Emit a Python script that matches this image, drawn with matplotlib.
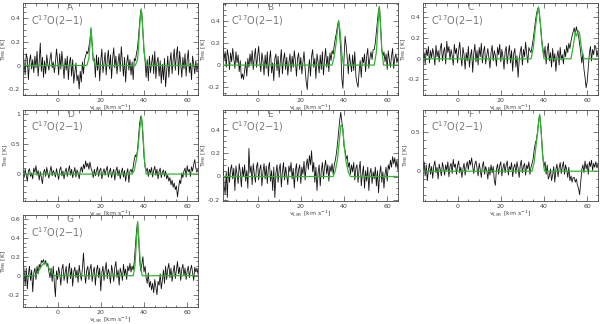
"""
C17O(2-1) spectra towards positions A-G, with the Gaussian fits in green
"""
import numpy as np
import matplotlib
matplotlib.use('Agg')
import matplotlib.pyplot as plt
from matplotlib.ticker import MultipleLocator

v_start = -16.0   # first channel (km/s)
dv = 0.5          # channel width (km/s)

# observed spectra (T_MB in K), one value per channel
spec_A = [0.14, 0.02, -0.08, 0.10, 0.06, -0.12, 0.04, 0.09, -0.03, 0.05,
          -0.06, 0.08, -0.02, 0.12, -0.09, 0.03, 0.19, -0.05, 0.07, -0.10,
          0.04, -0.07, 0.09, 0.01, -0.04, 0.06, 0.11, -0.02, 0.03, -0.06,
          0.02, 0.14, 0.05, -0.08, 0.10, -0.03, 0.12, 0.00, -0.11, 0.06,
          -0.04, 0.08, -0.12, 0.03, 0.07, -0.09, 0.05, -0.15, -0.06, 0.02,
          -0.13, -0.08, -0.20, -0.05, -0.14, 0.03, -0.07, 0.05, 0.08, 0.12,
          0.10, 0.16, 0.22, 0.31, 0.18, 0.04, 0.06, -0.10, 0.09, -0.04,
          0.07, -0.13, 0.04, 0.14, -0.06, 0.02, 0.11, -0.08, 0.05, 0.13,
          -0.03, 0.09, -0.11, 0.06, 0.15, -0.02, 0.08, -0.07, 0.03, 0.10,
          -0.05, 0.16, 0.04, -0.09, 0.07, -0.14, 0.02, 0.09, -0.04, 0.05,
          -0.08, 0.03, -0.12, 0.06, 0.04, 0.10, 0.15, 0.25, 0.37, 0.47,
          0.45, 0.28, 0.12, 0.04, -0.10, 0.05, -0.13, 0.08, -0.06, 0.02,
          0.09, -0.07, 0.12, -0.11, 0.03, 0.07, -0.09, 0.04, -0.15, 0.01,
          -0.12, 0.06, -0.18, -0.05, 0.08, -0.10, 0.03, 0.11, -0.07, 0.05,
          0.14, -0.04, 0.09, 0.16, -0.08, 0.12, 0.02, -0.10, 0.07, -0.03,
          0.10, -0.09, 0.05, 0.13, -0.06, 0.02, -0.12, 0.08, 0.01, -0.07,
          0.04, -0.05, 0.02]
spec_B = [0.17, 0.05, 0.12, -0.02, 0.14, 0.08, -0.04, 0.11, 0.03, 0.15,
          0.06, -0.03, 0.12, 0.02, 0.09, -0.06, 0.04, -0.12, -0.08, -0.13,
          -0.05, 0.03, -0.10, 0.06, -0.02, 0.10, 0.01, 0.13, -0.04, 0.07,
          0.15, -0.02, 0.08, 0.17, 0.03, -0.06, 0.11, 0.04, -0.09, 0.09,
          -0.03, 0.12, -0.10, 0.05, 0.13, -0.07, 0.02, -0.14, 0.06, 0.10,
          -0.05, 0.08, -0.11, 0.03, 0.14, -0.08, 0.05, 0.11, -0.04, 0.07,
          -0.09, 0.02, 0.10, -0.06, 0.08, -0.02, 0.13, 0.04, -0.10, 0.06,
          0.11, -0.04, 0.07, -0.08, 0.03, 0.12, -0.03, -0.15, -0.22, -0.06,
          0.05, -0.10, 0.08, 0.14, -0.02, 0.06, -0.12, 0.10, 0.03, -0.07,
          0.09, -0.04, 0.12, -0.09, 0.05, 0.15, -0.02, 0.08, -0.06, 0.11,
          0.04, 0.13, 0.10, 0.18, 0.24, 0.29, 0.36, 0.40, 0.28, 0.14,
          -0.12, -0.21, 0.05, 0.26, 0.18, 0.06, -0.08, 0.10, 0.02, -0.06,
          0.09, -0.05, 0.12, -0.10, -0.16, -0.20, -0.06, 0.04, -0.11, 0.07,
          0.02, 0.10, -0.06, 0.08, 0.15, -0.03, 0.06, 0.12, 0.05, 0.14,
          0.14, 0.20, 0.30, 0.41, 0.50, 0.52, 0.32, 0.14, 0.08, 0.12,
          0.03, 0.10, -0.04, 0.13, 0.05, -0.02, 0.08, 0.15, -0.03, 0.06,
          0.10, 0.02, 0.07]
spec_C = [-0.02, 0.06, -0.05, 0.09, 0.03, 0.12, -0.04, 0.08, 0.01, 0.10,
          0.04, -0.06, 0.13, 0.02, 0.08, -0.03, 0.10, 0.15, -0.02, 0.07,
          0.11, -0.05, 0.17, 0.06, 0.12, -0.01, 0.09, 0.03, -0.06, 0.14,
          0.05, 0.10, -0.04, 0.08, 0.16, 0.02, -0.07, 0.11, 0.04, -0.10,
          0.06, -0.02, 0.12, -0.08, 0.03, 0.09, -0.13, 0.05, 0.14, -0.03,
          0.08, -0.06, 0.11, 0.02, 0.15, -0.04, 0.07, 0.12, -0.05, 0.03,
          0.10, 0.01, -0.09, 0.06, 0.13, -0.02, 0.08, 0.03, -0.07, 0.11,
          0.04, 0.14, -0.03, 0.09, 0.02, -0.10, 0.07, 0.12, -0.05, 0.06,
          0.13, -0.04, 0.08, -0.12, 0.05, 0.10, -0.08, 0.03, -0.18, -0.02,
          0.07, 0.12, -0.06, 0.09, 0.02, 0.16, 0.05, -0.04, 0.11, 0.08,
          0.06, 0.12, 0.19, 0.27, 0.36, 0.43, 0.48, 0.50, 0.40, 0.30,
          0.18, 0.10, 0.02, 0.12, -0.05, 0.08, 0.15, -0.02, 0.06, -0.08,
          0.10, -0.03, 0.05, -0.12, 0.02, 0.08, -0.06, 0.11, -0.01, 0.04,
          -0.05, 0.09, 0.02, 0.13, 0.06, 0.15, 0.10, 0.17, 0.22, 0.26,
          0.30, 0.24, 0.31, 0.26, 0.22, 0.14, 0.06, -0.04, 0.05, -0.10,
          -0.18, -0.28, -0.22, -0.08, 0.05, 0.12, -0.02, 0.09, 0.04, 0.13,
          0.11, 0.02, 0.08]
spec_D = [0.04, -0.06, 0.08, -0.02, -0.12, 0.05, 0.09, -0.04, 0.02, -0.08,
          0.10, 0.03, 0.14, -0.02, 0.06, -0.10, 0.04, -0.06, -0.16, 0.02,
          0.08, -0.04, 0.11, 0.01, -0.07, 0.05, 0.13, -0.03, 0.06, 0.02,
          -0.05, 0.09, 0.00, -0.09, 0.07, 0.12, -0.03, 0.05, -0.08, 0.04,
          0.10, -0.04, 0.06, 0.14, -0.02, 0.08, -0.06, 0.03, 0.11, -0.05,
          0.07, 0.02, -0.08, 0.06, 0.12, 0.03, 0.16, 0.09, 0.22, 0.12,
          0.18, 0.08, 0.20, 0.10, 0.04, -0.06, 0.08, -0.03, 0.05, 0.12,
          -0.04, 0.06, 0.10, -0.08, 0.03, 0.09, -0.02, 0.07, 0.13, -0.05,
          0.04, 0.10, -0.06, 0.02, 0.08, -0.10, 0.05, 0.12, -0.03, 0.07,
          -0.08, 0.03, 0.10, -0.05, 0.06, -0.12, 0.02, 0.09, -0.14, 0.05,
          0.08, 0.02, 0.12, 0.24, 0.32, 0.28, 0.40, 0.62, 0.85, 0.96,
          0.90, 0.62, 0.30, 0.12, 0.05, 0.10, -0.04, 0.08, 0.02, 0.11,
          -0.05, 0.06, 0.13, -0.02, 0.08, -0.08, 0.04, 0.10, -0.06, 0.03,
          0.07, -0.04, 0.05, -0.08, -0.02, -0.12, -0.06, -0.18, -0.10, -0.22,
          -0.15, -0.26, -0.20, -0.38, -0.24, -0.10, -0.16, 0.02, -0.06, 0.05,
          0.10, -0.05, 0.14, 0.04, 0.08, -0.04, 0.12, 0.05, 0.16, 0.24,
          0.10, 0.03, 0.08]
spec_E = [0.12, -0.08, -0.15, 0.04, -0.18, 0.08, -0.05, 0.06, 0.10, -0.02,
          0.07, -0.12, 0.09, 0.02, -0.06, 0.11, 0.04, -0.09, 0.08, 0.00,
          0.10, -0.04, 0.05, -0.10, 0.24, 0.03, 0.09, -0.07, 0.11, 0.02,
          -0.05, 0.08, 0.12, -0.03, 0.06, 0.10, -0.08, 0.04, 0.11, -0.02,
          0.09, -0.06, 0.07, 0.12, -0.04, 0.05, -0.12, 0.08, -0.18, 0.03,
          0.10, -0.05, 0.06, 0.11, -0.09, 0.04, 0.12, -0.03, 0.08, 0.01,
          -0.07, 0.09, 0.04, 0.12, -0.02, 0.07, -0.10, 0.05, 0.11, -0.04,
          0.06, 0.10, -0.06, 0.08, 0.02, 0.13, -0.03, 0.09, 0.15, 0.06,
          0.18, 0.10, 0.22, 0.04, 0.12, -0.05, 0.08, -0.12, 0.03, 0.10,
          -0.08, 0.05, 0.12, -0.02, 0.08, 0.14, 0.02, 0.10, -0.04, 0.09,
          0.04, 0.11, 0.02, 0.10, 0.14, 0.20, 0.28, 0.38, 0.48, 0.55,
          0.47, 0.40, 0.26, 0.22, 0.15, 0.18, 0.08, 0.12, 0.02, 0.10,
          0.04, 0.12, -0.03, 0.07, 0.10, -0.05, 0.06, 0.13, -0.08, 0.02,
          0.09, -0.10, 0.05, -0.04, 0.08, -0.12, 0.03, 0.07, -0.06, 0.04,
          -0.02, 0.08, -0.08, 0.05, -0.14, 0.02, 0.09, -0.05, 0.04, -0.10,
          0.02, 0.08, -0.04, 0.10, 0.06, 0.14, 0.08, 0.17, 0.11, 0.16,
          0.08, 0.14, 0.05]
spec_F = [0.03, 0.12, -0.06, 0.08, -0.12, 0.02, 0.10, -0.04, 0.06, -0.09,
          0.07, 0.13, -0.02, 0.05, -0.10, 0.09, 0.02, -0.06, 0.11, 0.04,
          -0.05, 0.08, 0.01, 0.12, -0.07, 0.06, 0.10, -0.03, 0.15, 0.05,
          0.09, -0.04, 0.07, 0.13, -0.02, 0.05, -0.08, 0.03, 0.10, -0.05,
          0.06, 0.12, 0.02, 0.14, 0.08, 0.17, 0.06, -0.03, 0.09, 0.13,
          0.04, -0.06, 0.10, 0.02, -0.08, 0.07, 0.12, -0.04, 0.06, 0.01,
          -0.10, 0.05, -0.05, 0.08, -0.02, 0.06, -0.12, -0.18, 0.03, 0.09,
          -0.04, 0.07, 0.12, -0.06, 0.04, 0.10, -0.02, 0.08, 0.13, -0.05,
          0.06, 0.02, 0.11, -0.07, 0.05, 0.09, -0.03, 0.12, 0.04, -0.08,
          0.07, 0.14, -0.02, 0.06, 0.10, -0.05, 0.08, 0.03, 0.12, -0.04,
          0.05, 0.10, 0.16, 0.28, 0.36, 0.40, 0.50, 0.64, 0.72, 0.58,
          0.38, 0.18, 0.06, 0.12, -0.04, 0.08, -0.10, -0.06, 0.03, -0.12,
          -0.05, 0.06, -0.14, 0.02, 0.09, -0.07, 0.04, 0.11, -0.03, 0.06,
          0.12, -0.04, 0.08, 0.02, -0.08, 0.05, -0.12, -0.06, -0.14, -0.08,
          -0.08, -0.14, -0.10, -0.18, -0.22, -0.30, -0.14, 0.02, 0.08, -0.02,
          0.13, 0.03, 0.09, -0.04, 0.12, 0.06, 0.14, 0.01, 0.10, 0.05,
          0.12, 0.04, 0.09]
spec_G = [0.18, 0.05, -0.10, 0.08, -0.14, 0.02, 0.10, -0.05, 0.06, -0.17,
          0.03, 0.08, -0.04, 0.10, 0.02, 0.12, 0.08, 0.16, 0.14, 0.17,
          0.12, 0.16, 0.10, 0.13, 0.04, -0.02, 0.08, -0.06, 0.10, -0.08,
          -0.22, 0.05, -0.04, 0.09, 0.02, -0.10, 0.07, 0.12, -0.05, 0.03,
          0.10, -0.08, 0.05, 0.13, -0.03, 0.08, -0.11, 0.04, 0.09, -0.02,
          0.06, -0.07, 0.11, 0.02, -0.05, 0.08, 0.24, 0.03, -0.08, 0.06,
          0.10, -0.04, 0.07, 0.12, -0.06, 0.04, 0.09, -0.10, 0.05, 0.11,
          -0.02, 0.08, -0.16, 0.03, 0.10, -0.05, 0.06, 0.14, -0.03, 0.07,
          0.02, -0.08, 0.11, 0.04, -0.06, 0.09, 0.15, -0.02, 0.06, -0.10,
          0.08, 0.03, -0.05, 0.12, 0.01, 0.07, -0.04, 0.10, 0.05, 0.13,
          0.04, 0.10, 0.06, 0.15, 0.30, 0.46, 0.57, 0.40, 0.16, 0.05,
          0.12, 0.20, 0.04, 0.10, -0.02, -0.08, 0.03, -0.12, -0.06, -0.15,
          -0.08, -0.18, -0.04, -0.12, -0.20, -0.06, -0.10, 0.02, -0.14, -0.05,
          0.06, -0.08, 0.10, -0.04, 0.07, 0.13, -0.02, 0.08, -0.06, 0.04,
          0.11, -0.03, 0.06, 0.15, 0.02, 0.09, -0.05, 0.07, 0.12, 0.00,
          0.08, -0.04, 0.05, 0.10, -0.02, 0.06, 0.11, 0.03, -0.05, 0.09,
          0.04, 0.08, 0.02]

# Gaussian fits, sampled as (v, T) points
fit_A_v = [-16, 13.5, 14.5, 15.0, 15.5, 16.0, 16.5, 17.5, 36.0, 37.0, 37.5, 38.0, 38.7, 39.3, 40.0, 40.5, 41.5, 65]
fit_A_t = [0, 0, 0.06, 0.18, 0.32, 0.18, 0.06, 0, 0, 0.05, 0.16, 0.33, 0.48, 0.35, 0.14, 0.05, 0, 0]
fit_B_v = [-16, 34.5, 35.5, 36.5, 37.0, 37.6, 38.2, 39.0, 39.8, 54.0, 55.0, 55.8, 56.3, 56.9, 57.5, 58.3, 65]
fit_B_t = [0, 0, 0.08, 0.22, 0.32, 0.40, 0.30, 0.10, 0, 0, 0.12, 0.38, 0.53, 0.36, 0.14, 0, 0]
fit_C_v = [-16, 34.0, 35.0, 36.0, 37.0, 37.5, 38.2, 39.0, 40.0, 52.5, 53.5, 54.5, 55.0, 56.0, 56.5, 57.5, 58.5, 65]
fit_C_t = [0, 0, 0.10, 0.30, 0.46, 0.50, 0.38, 0.15, 0, 0, 0.12, 0.26, 0.22, 0.27, 0.24, 0.08, 0, 0]
fit_D_v = [-16, 34.5, 35.5, 36.5, 37.3, 38.0, 38.8, 39.5, 40.2, 41.0, 65]
fit_D_t = [0, 0, 0.06, 0.25, 0.45, 0.75, 0.97, 0.70, 0.25, 0, 0]
fit_E_v = [-16, 35.0, 36.0, 37.0, 37.8, 38.6, 39.4, 40.2, 41.0, 42.0, 43.0, 65]
fit_E_t = [0, 0, 0.05, 0.15, 0.30, 0.44, 0.42, 0.25, 0.12, 0.04, 0, 0]
fit_F_v = [-16, 34.5, 35.5, 36.2, 37.0, 37.5, 38.0, 38.6, 39.3, 40.2, 65]
fit_F_t = [0, 0, 0.12, 0.30, 0.48, 0.62, 0.72, 0.55, 0.22, 0, 0]
fit_G_v = [-16, -10.5, -9.0, -7.5, -6.0, -4.5, -3.0, -1.5, 35.0, 35.8, 36.5, 37.1, 37.7, 38.4, 39.2, 65]
fit_G_t = [0, 0, 0.04, 0.10, 0.14, 0.10, 0.04, 0, 0, 0.10, 0.36, 0.57, 0.36, 0.10, 0, 0]

names = ['A', 'B', 'C', 'D', 'E', 'F', 'G']
spectra = [spec_A, spec_B, spec_C, spec_D, spec_E, spec_F, spec_G]
fits_v = [fit_A_v, fit_B_v, fit_C_v, fit_D_v, fit_E_v, fit_F_v, fit_G_v]
fits_t = [fit_A_t, fit_B_t, fit_C_t, fit_D_t, fit_E_t, fit_F_t, fit_G_t]
ylims = [(-0.25, 0.53), (-0.27, 0.56), (-0.35, 0.54), (-0.45, 1.07),
         (-0.21, 0.57), (-0.38, 0.78), (-0.33, 0.64)]

fig = plt.figure(figsize=(6, 3.24), dpi=100)
W, H = 600., 324.
lefts = [23, 223, 423, 23, 223, 423, 23]
tops = [3, 3, 3, 110, 110, 110, 215]
bots = [95, 95, 95, 201, 201, 201, 307]
gray = '#444444'

for i in range(7):
    ax = fig.add_axes([lefts[i]/W, 1-bots[i]/H, 175/W, (bots[i]-tops[i])/H])
    t = np.array(spectra[i])
    v = v_start + dv*np.arange(len(t))
    ax.plot(v, t, color='#111111', lw=0.6, zorder=2)
    ax.plot(fits_v[i], fits_t[i], color='#2fb52f', lw=0.9, zorder=3)
    ax.set_xlim(-16, 65)
    ax.set_ylim(*ylims[i])
    ax.xaxis.set_major_locator(MultipleLocator(20))
    ax.xaxis.set_minor_locator(MultipleLocator(5))
    if ylims[i][1] > 0.7:
        ax.yaxis.set_major_locator(MultipleLocator(0.5))
        ax.yaxis.set_minor_locator(MultipleLocator(0.1))
    else:
        ax.yaxis.set_major_locator(MultipleLocator(0.2))
        ax.yaxis.set_minor_locator(MultipleLocator(0.05))
    ax.tick_params(which='both', direction='in', top=True, right=True,
                   labelsize=4.5, colors=gray, width=0.5, pad=2)
    ax.tick_params(which='major', length=3.5)
    ax.tick_params(which='minor', length=1.8)
    for s in ax.spines.values():
        s.set_linewidth(0.6)
        s.set_color(gray)
    ax.yaxis.set_major_formatter(plt.FuncFormatter(lambda y, p: '%g' % round(y, 2)))
    ax.set_xlabel(r'v$_{\rm LSR}$ [km s$^{-1}$]', fontsize=4.5, color=gray, labelpad=0)
    ax.set_ylabel(r'T$_{\rm MB}$ [K]', fontsize=4.5, color=gray, labelpad=0)
    ax.text(0.045, 0.77, r'C$^{17}$O(2$-$1)', transform=ax.transAxes,
            fontsize=7, color='#777777', va='baseline')
    ax.text(0.27, 0.995, names[i], transform=ax.transAxes,
            fontsize=6.5, color='#777777', va='top', ha='center')

plt.savefig('out.png', dpi=100)
